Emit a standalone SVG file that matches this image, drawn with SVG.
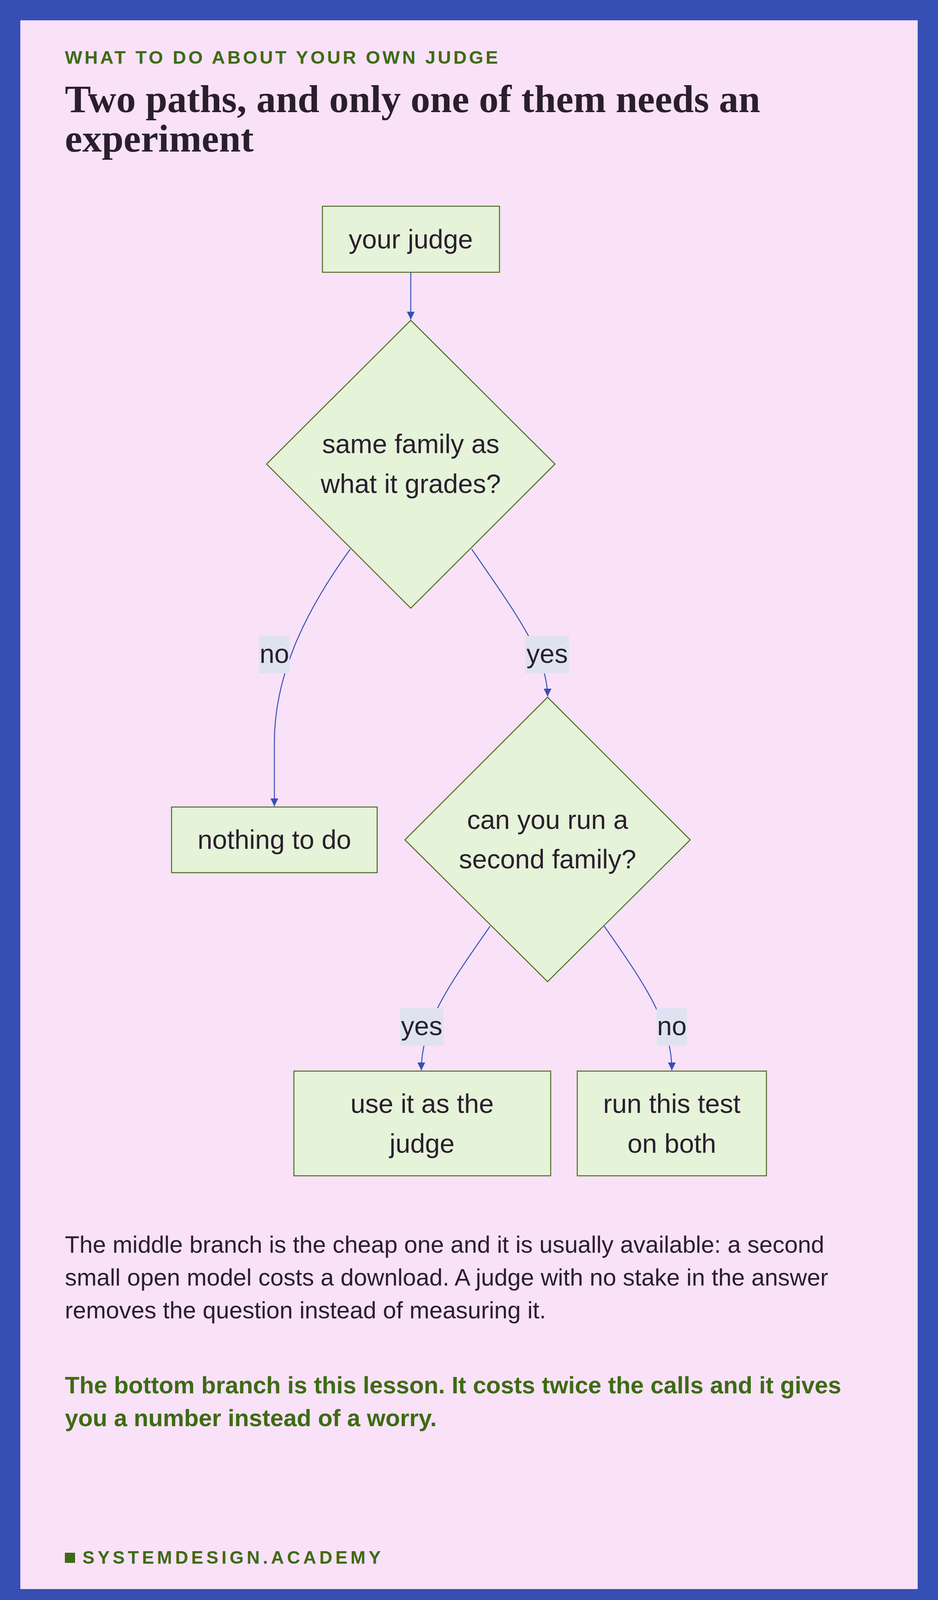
<svg xmlns="http://www.w3.org/2000/svg" width="2400" height="4120" viewBox="0 0 2400 4120">
<style>
.node{fill:#e5f3d9;stroke:#4a6b1f;stroke-width:2.5}
.nt{font-family:"Liberation Sans",Arial,sans-serif;font-size:68px;fill:#2a1f2d;text-anchor:middle}
.edge{fill:none;stroke:#364fb5;stroke-width:2.5;marker-end:url(#ah)}
.lb{fill:#dfe3f1}
.body{font-family:"Liberation Sans",Arial,sans-serif;font-size:61px;fill:#2a1f2d}
.em{font-family:"Liberation Sans",Arial,sans-serif;font-size:61px;font-weight:bold;fill:#3d6b14}
</style>
<defs>
<marker id="ah" viewBox="0 0 10 10" refX="10" refY="5" markerWidth="20" markerHeight="20" markerUnits="userSpaceOnUse" orient="auto"><path d="M0,0 L10,5 L0,10 z" fill="#364fb5"/></marker>
</defs>
<rect width="2400" height="4120" fill="#364fb5"/>
<rect x="52" y="52" width="2296" height="4016" fill="#f9e1f8"/>
<text x="166" y="163" font-family="Liberation Sans,Arial,sans-serif" font-size="47" font-weight="bold" letter-spacing="6" fill="#3d6b14">WHAT TO DO ABOUT YOUR OWN JUDGE</text>
<text font-family="Liberation Serif,Times New Roman,serif" font-size="100" font-weight="bold" fill="#2a1f2d"><tspan x="166" y="287">Two paths, and only one of them needs an</tspan><tspan x="166" y="388">experiment</tspan></text>
<g id="edges">
<path class="edge" d="M1051,697 L1051,818"/>
<path class="edge" d="M896,1406 C770,1580 702,1740 702,1900 L702,2064"/>
<path class="edge" d="M1207,1406 C1320,1570 1401,1680 1401,1783"/>
<path class="edge" d="M1254,2371 C1150,2520 1078,2620 1078,2740"/>
<path class="edge" d="M1546,2371 C1650,2520 1719,2620 1719,2740"/>
<rect class="lb" x="663" y="1628" width="78" height="96"/>
<text class="nt" x="702" y="1697">no</text>
<rect class="lb" x="1344" y="1628" width="112" height="96"/>
<text class="nt" x="1400" y="1697">yes</text>
<rect class="lb" x="1023" y="2581" width="112" height="96"/>
<text class="nt" x="1079" y="2650">yes</text>
<rect class="lb" x="1680" y="2581" width="78" height="96"/>
<text class="nt" x="1719" y="2650">no</text>
</g>
<g id="judge"><rect class="node" x="825" y="528" width="453" height="169"/><text class="nt" x="1051" y="636">your judge</text></g>
<g id="same"><polygon class="node" points="1051,820 1420,1188 1051,1557 682,1188"/><text class="nt" x="1051" y="1160">same family as</text><text class="nt" x="1051" y="1262">what it grades?</text></g>
<g id="nothing"><rect class="node" x="439" y="2066" width="526" height="168"/><text class="nt" x="702" y="2173">nothing to do</text></g>
<g id="second"><polygon class="node" points="1401,1785 1766,2150 1401,2513 1036,2150"/><text class="nt" x="1401" y="2122">can you run a</text><text class="nt" x="1401" y="2223">second family?</text></g>
<g id="use"><rect class="node" x="752" y="2742" width="657" height="268"/><text class="nt" x="1080" y="2849">use it as the</text><text class="nt" x="1080" y="2951">judge</text></g>
<g id="run"><rect class="node" x="1477" y="2742" width="484" height="268"/><text class="nt" x="1719" y="2849">run this test</text><text class="nt" x="1719" y="2951">on both</text></g>
<text class="body"><tspan x="166" y="3207">The middle branch is the cheap one and it is usually available: a second</tspan><tspan x="166" y="3291">small open model costs a download. A judge with no stake in the answer</tspan><tspan x="166" y="3375">removes the question instead of measuring it.</tspan></text>
<text class="em"><tspan x="166" y="3567">The bottom branch is this lesson. It costs twice the calls and it gives</tspan><tspan x="166" y="3651">you a number instead of a worry.</tspan></text>
<rect x="166" y="3975" width="26" height="26" fill="#3d6b14"/>
<text x="211" y="4003" font-family="Liberation Sans,Arial,sans-serif" font-size="46" font-weight="bold" letter-spacing="8" fill="#3d6b14">SYSTEMDESIGN.ACADEMY</text>
</svg>
